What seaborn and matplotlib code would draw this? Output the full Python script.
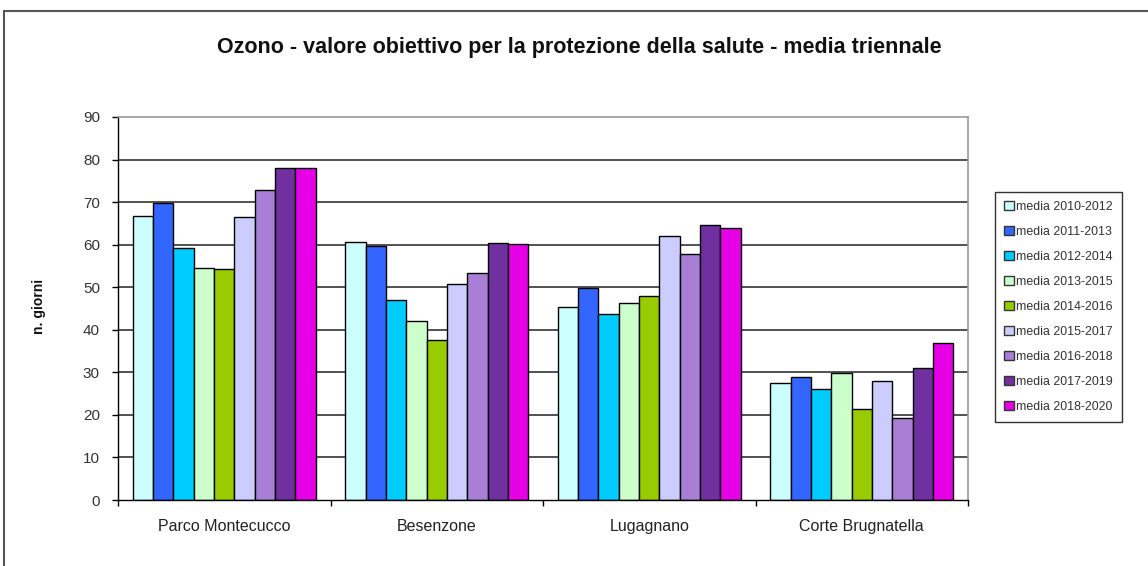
import matplotlib
matplotlib.use("Agg")
import matplotlib.pyplot as plt
import seaborn as sns
import pandas as pd
import numpy as np
from matplotlib.patches import Rectangle, Patch

stations = ["Parco Montecucco", "Besenzone", "Lugagnano", "Corte Brugnatella"]
periods = ["media 2010-2012", "media 2011-2013", "media 2012-2014", "media 2013-2015",
           "media 2014-2016", "media 2015-2017", "media 2016-2018", "media 2017-2019",
           "media 2018-2020"]
parco = [66.7, 69.8, 59.1, 54.6, 54.2, 66.4, 72.9, 78.1, 78.1]
besenzone = [60.6, 59.7, 46.9, 42.1, 37.6, 50.7, 53.3, 60.4, 60.1]
lugagnano = [45.4, 49.8, 43.7, 46.4, 48.0, 62.1, 57.7, 64.6, 64.0]
corte = [27.6, 29.0, 26.1, 29.9, 21.5, 28.0, 19.2, 31.1, 36.9]
colors = ["#CCFFFF", "#3366FF", "#00CCFF", "#CCFFCC", "#99CC00",
          "#CCCCFF", "#A97FD6", "#7030A0", "#E600E6"]

rows = []
for st, vals in zip(stations, [parco, besenzone, lugagnano, corte]):
    for p, v in zip(periods, vals):
        rows.append({"stazione": st, "periodo": p, "giorni": v})
df = pd.DataFrame(rows)

sns.set_theme(style="white")
plt.rcParams["font.family"] = ["Liberation Sans", "DejaVu Sans"]

fig = plt.figure(figsize=(11.48, 5.66), dpi=100)
ax = fig.add_axes([118/1148, 1-500/566, (968-118)/1148, (500-117)/566])

sns.barplot(data=df, x="stazione", y="giorni", hue="periodo", order=stations,
            hue_order=periods, palette=colors, width=0.86, gap=0,
            edgecolor="black", linewidth=1.0, ax=ax, legend=False, saturation=1)

ax.set_ylim(0, 90)
ax.set_xlim(-0.5, 3.5)
ax.set_yticks(range(0, 91, 10))
ax.tick_params(axis="y", labelsize=11, labelcolor="#333333", length=4, width=1,
               color="black", direction="out", left=True, pad=9)
ax.set_xticks([0, 1, 2, 3])
ax.set_xticklabels(stations, fontsize=11.5, color="#222222")
ax.set_xticks([-0.5, 0.5, 1.5, 2.5, 3.5], minor=True)
ax.tick_params(axis="x", which="major", length=0, pad=14)
ax.tick_params(axis="x", which="minor", length=4, width=1, color="black", direction="out", bottom=True)
ax.set_xlabel("")
ax.set_ylabel("")
fig.text(39/1148, 1-306/566, "n. giorni", rotation=90, ha="center", va="center",
         fontsize=10, fontweight="bold", color="#111111")

for v in range(10, 90, 10):
    ax.axhline(v, color="#333333", linewidth=1.2, zorder=0)
ax.set_axisbelow(True)
for s in ["top", "right"]:
    ax.spines[s].set_color("#999999")
    ax.spines[s].set_linewidth(1.2)
for s in ["left", "bottom"]:
    ax.spines[s].set_color("black")
    ax.spines[s].set_linewidth(1.0)

fig.text(579/1148, 1-48/566, "Ozono - valore obiettivo per la protezione della salute - media triennale",
         ha="center", va="center", fontsize=15.5, fontweight="bold", color="#111111")

handles = [Patch(facecolor=c, edgecolor="#333333", linewidth=1.0) for c in colors]
leg = fig.legend(handles, periods, loc="upper left", bbox_to_anchor=(995/1148, 1-192/566),
                 fontsize=8.9, frameon=True, fancybox=False, handlelength=0.75, handleheight=0.75,
                 handletextpad=0.2, labelspacing=1.05, borderpad=0.75, borderaxespad=0)
leg.get_frame().set_edgecolor("black")
leg.get_frame().set_linewidth(1.0)
for t in leg.get_texts():
    t.set_color("#333333")

fig.patches.append(Rectangle((4/1148, -0.05), 1.1, 1-11/566 + 0.05, transform=fig.transFigure,
                             fill=False, edgecolor="#555555", linewidth=1.5))

fig.savefig("out.png", dpi=100)
